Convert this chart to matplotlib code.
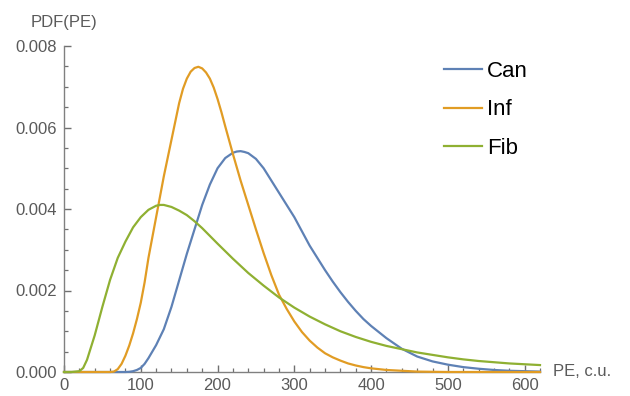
import matplotlib
matplotlib.use('Agg')
import matplotlib.pyplot as plt
from matplotlib.ticker import MultipleLocator, FormatStrFormatter

plt.rcParams['font.family'] = ['Liberation Sans', 'DejaVu Sans']

# values (PE in c.u., PDF)
can_x = [0, 80, 85, 90, 95, 100, 105, 110, 115, 120, 130, 140, 150, 160, 170, 180,
         190, 200, 210, 220, 225, 230, 235, 240, 250, 260, 270, 280, 290, 300, 310,
         320, 330, 340, 350, 360, 370, 380, 390, 400, 420, 440, 460, 480, 500, 520,
         540, 560, 580, 600, 620]
can_y = [0, 0, 0.000005, 0.00002, 0.00005, 0.0001, 0.0002, 0.00034, 0.0005, 0.00066,
         0.00105, 0.0016, 0.00225, 0.0029, 0.0035, 0.0041, 0.0046, 0.005, 0.00525,
         0.00538, 0.00541, 0.00542, 0.0054, 0.00537, 0.00523, 0.005, 0.0047, 0.0044,
         0.0041, 0.0038, 0.00345, 0.0031, 0.0028, 0.0025, 0.00222, 0.00196, 0.00172,
         0.0015, 0.0013, 0.00113, 0.00083, 0.00057, 0.00038, 0.00026, 0.00018,
         0.00012, 0.00008, 0.00005, 0.00003, 0.00002, 0.00001]

inf_x = [0, 60, 65, 70, 75, 80, 85, 90, 95, 100, 105, 110, 120, 130, 140, 150, 155,
         160, 165, 170, 175, 180, 185, 190, 195, 200, 205, 210, 220, 230, 240, 250,
         260, 270, 280, 290, 300, 310, 320, 330, 340, 350, 360, 370, 380, 390, 400,
         420, 440, 460, 500, 620]
inf_y = [0, 0, 0.00001, 0.00007, 0.0002, 0.0004, 0.00065, 0.00095, 0.0013, 0.0017,
         0.0022, 0.0028, 0.0038, 0.0048, 0.0057, 0.0066, 0.00695, 0.0072, 0.00737,
         0.00746, 0.00749, 0.00745, 0.00735, 0.0072, 0.00698, 0.0067, 0.00638,
         0.00603, 0.00535, 0.0047, 0.0041, 0.0035, 0.00292, 0.00238, 0.0019, 0.00155,
         0.00124, 0.00098, 0.00077, 0.0006, 0.00046, 0.00036, 0.00028, 0.00021,
         0.00016, 0.00012, 0.00009, 0.00005, 0.00003, 0.00001, 0, 0]

fib_x = [0, 10, 20, 25, 30, 35, 40, 50, 60, 70, 80, 90, 100, 110, 120, 125, 130, 140,
         150, 160, 170, 180, 190, 200, 220, 240, 260, 280, 300, 320, 340, 360, 380,
         400, 420, 440, 460, 480, 500, 520, 540, 560, 580, 600, 620]
fib_y = [0, 0, 0.00002, 0.0001, 0.0003, 0.0006, 0.0009, 0.0016, 0.00226, 0.0028,
         0.0032, 0.00355, 0.0038, 0.00398, 0.00408, 0.0041, 0.0041, 0.00405, 0.00396,
         0.00385, 0.0037, 0.00353, 0.00334, 0.00315, 0.00278, 0.00243, 0.00212,
         0.00183, 0.00158, 0.00136, 0.00117, 0.001, 0.00086, 0.00074, 0.00064,
         0.00056, 0.00048, 0.00042, 0.00036, 0.00031, 0.00027, 0.00024, 0.00021,
         0.00019, 0.00017]

series = [('Can', can_x, can_y, '#5E81B5'),
          ('Inf', inf_x, inf_y, '#E19C24'),
          ('Fib', fib_x, fib_y, '#8FB032')]

fig = plt.figure(figsize=(6.3, 3.96), dpi=100)
ax = fig.add_axes([64 / 630, 24 / 396, 476 / 630, 326 / 396])

for name, xs, ys, col in series:
    ax.plot(xs, ys, color=col, lw=1.6, label=name, zorder=3, clip_on=False,
            solid_joinstyle='round')

ax.set_xlim(0, 620)
ax.set_ylim(0, 0.008)

# Mathematica-like axes
for s in ['top', 'right']:
    ax.spines[s].set_visible(False)
for s in ['left', 'bottom']:
    ax.spines[s].set_color('#808080')
    ax.spines[s].set_linewidth(1.0)

ax.xaxis.set_major_locator(MultipleLocator(100))
ax.xaxis.set_minor_locator(MultipleLocator(20))
ax.yaxis.set_major_locator(MultipleLocator(0.002))
ax.yaxis.set_minor_locator(MultipleLocator(0.0005))
ax.yaxis.set_major_formatter(FormatStrFormatter('%.3f'))
ax.tick_params(which='major', direction='in', length=5, width=1.0, color='#707070',
               labelsize=12, labelcolor='#5a5a5a')
ax.tick_params(which='minor', direction='in', length=3, width=0.9, color='#707070')
ax.tick_params(axis='x', which='major', pad=4)
ax.tick_params(axis='y', which='major', pad=5)

fig.text(64 / 630, 1 - 22 / 396, 'PDF(PE)', ha='center', va='center',
         fontsize=12, color='#5a5a5a')
fig.text(553 / 630, 1 - 372 / 396, 'PE, c.u.', ha='left', va='center',
         fontsize=12, color='#5a5a5a')

ax.legend(loc='upper left', bbox_to_anchor=(444 / 630, 1 - 61 / 396),
          bbox_transform=fig.transFigure, frameon=False, fontsize=16,
          handlelength=1.7, handletextpad=0.25, labelspacing=0.78,
          borderpad=0, borderaxespad=0)

plt.savefig('out.png', dpi=100)
plt.close()
